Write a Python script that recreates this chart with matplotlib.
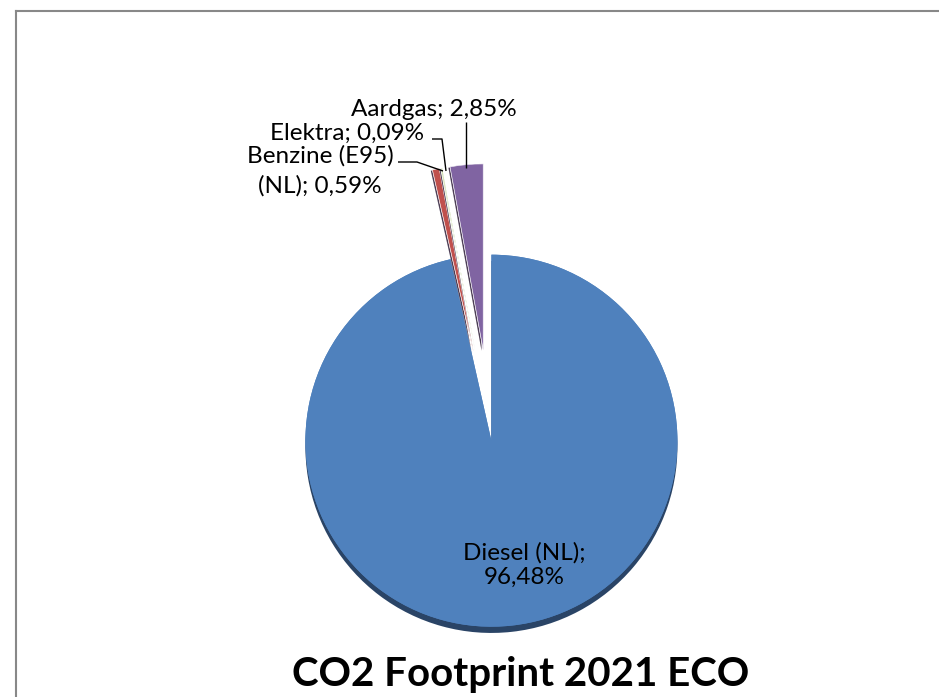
import matplotlib.pyplot as plt
import matplotlib.patheffects as pe
from matplotlib.lines import Line2D

W, H = 939, 697

labels = ['Diesel (NL)', 'Benzine (E95)\n(NL)', 'Elektra', 'Aardgas']
values = [96.48, 0.59, 0.09, 2.85]
value_text = ['96,48%', '0,59%', '0,09%', '2,85%']
colors = ['#4F81BD', '#C0504D', '#9BBB59', '#8064A2']
explode_frac = [0.02, 0.47, 0.47, 0.47]
title = 'CO2 Footprint 2021 ECO'

plt.rcParams['font.family'] = ['Lato', 'DejaVu Sans']

fig = plt.figure(figsize=(W / 100, H / 100), dpi=100)
ax = fig.add_axes([0, 0, 1, 1])

# pie in pixel units, y measured from the bottom; explode is in data units
cx, cy, R = 491, H - 437, 186
explode = [e * R for e in explode_frac]
wedges, _ = ax.pie(values, colors=colors, explode=explode, startangle=90,
                   counterclock=False, center=(cx, cy), radius=R,
                   wedgeprops=dict(edgecolor='white', linewidth=0.4))
ax.set_xlim(0, W)
ax.set_ylim(0, H)
ax.set_aspect('equal')
ax.axis('off')

# dark rim under the big slice, darker edges on the small ones
wedges[0].set_linewidth(0)
wedges[0].set_path_effects([pe.withSimplePatchShadow(offset=(0, -4.5), shadow_rgbFace='#2a4466', alpha=1), pe.Normal()])
for w in wedges[1:]:
    w.set_path_effects([pe.withSimplePatchShadow(offset=(-1.2, -0.6), shadow_rgbFace='#3a2a44', alpha=0.9), pe.Normal()])

fs = 17.5
def Y(y):
    return H - y

ax.text(524, Y(565), f'{labels[0]};\n{value_text[0]}', ha='center', va='center',
        fontsize=fs, linespacing=1.15, color='black')
ax.text(320, Y(171), f'{labels[1]}; {value_text[1]}', ha='center', va='center',
        fontsize=fs, linespacing=1.45, color='black')
ax.text(424, Y(133), f'{labels[2]}; {value_text[2]}', ha='right', va='center',
        fontsize=fs, color='black')
ax.text(433.5, Y(109), f'{labels[3]}; {value_text[3]}', ha='center', va='center',
        fontsize=fs, color='black')

# leader lines
lk = dict(color='black', lw=1.0, solid_capstyle='butt')
ax.plot([398, 417, 443], [Y(162), Y(162), Y(171)], **lk)
ax.plot([432, 442, 446], [Y(139), Y(139), Y(171)], **lk)
ax.plot([466, 466], [Y(122), Y(168)], **lk)

ax.text(521, Y(686), title, ha='center', va='baseline', fontsize=29,
        fontweight='bold', color='black')

# frame of the chart area (cropped: only top and left visible)
fig.add_artist(Line2D([15.8 / W, 15.8 / W], [0, 1 - 10.8 / H], transform=fig.transFigure,
                      color='#888888', lw=1.5))
fig.add_artist(Line2D([15.8 / W, 1], [1 - 10.8 / H, 1 - 10.8 / H], transform=fig.transFigure,
                      color='#888888', lw=1.5))

fig.savefig('out.png', dpi=100, facecolor='white')
